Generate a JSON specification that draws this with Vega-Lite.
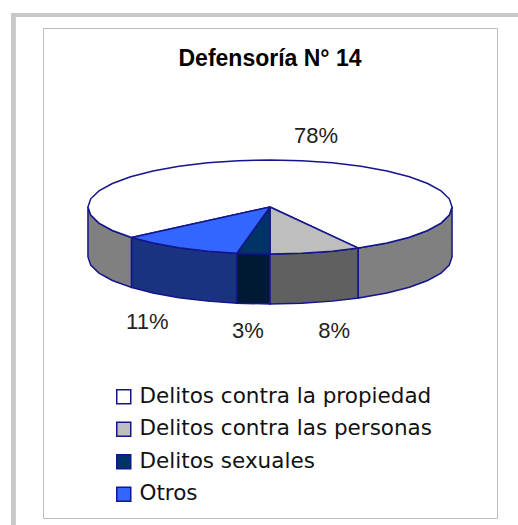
{"$schema":"https://vega.github.io/schema/vega-lite/v6.json","width":454,"height":490,"autosize":{"type":"none"},"padding":{"left":43,"top":28,"right":21,"bottom":7},"background":"white","view":{"stroke":"#bdbdbd","strokeWidth":1},
"title":{"text":"Defensoría N° 14","font":"Liberation Sans","fontSize":23,"fontWeight":"bold","color":"#000000","anchor":"middle","offset":-58},
"datasets":{
"frame":[{"x":-1.423,"x2":-1.396,"y":1.066,"y2":-1.747},{"x":-1.423,"x2":1.363,"y":1.066,"y2":1.044}],
"walls":[
{"category":"Delitos contra la propiedad","part":"left","order":1,"x":-1,"y":0},{"category":"Delitos contra la propiedad","part":"left","order":2,"x":-0.9848,"y":-0.0448},{"category":"Delitos contra la propiedad","part":"left","order":3,"x":-0.9397,"y":-0.0883},{"category":"Delitos contra la propiedad","part":"left","order":4,"x":-0.866,"y":-0.1291},{"category":"Delitos contra la propiedad","part":"left","order":5,"x":-0.7604,"y":-0.1677},{"category":"Delitos contra la propiedad","part":"left","order":6,"x":-0.7604,"y":-0.4424},{"category":"Delitos contra la propiedad","part":"left","order":7,"x":-0.866,"y":-0.4038},{"category":"Delitos contra la propiedad","part":"left","order":8,"x":-0.9397,"y":-0.363},{"category":"Delitos contra la propiedad","part":"left","order":9,"x":-0.9848,"y":-0.3195},{"category":"Delitos contra la propiedad","part":"left","order":10,"x":-1,"y":-0.2747},{"category":"Delitos contra la propiedad","part":"left","order":11,"x":-1,"y":0},
{"category":"Otros","part":"otros","order":1,"x":-0.7604,"y":-0.1677},{"category":"Otros","part":"otros","order":2,"x":-0.6428,"y":-0.1978},{"category":"Otros","part":"otros","order":3,"x":-0.5,"y":-0.2236},{"category":"Otros","part":"otros","order":4,"x":-0.342,"y":-0.2426},{"category":"Otros","part":"otros","order":5,"x":-0.1822,"y":-0.2539},{"category":"Otros","part":"otros","order":6,"x":-0.1822,"y":-0.5286},{"category":"Otros","part":"otros","order":7,"x":-0.342,"y":-0.5173},{"category":"Otros","part":"otros","order":8,"x":-0.5,"y":-0.4983},{"category":"Otros","part":"otros","order":9,"x":-0.6428,"y":-0.4725},{"category":"Otros","part":"otros","order":10,"x":-0.7604,"y":-0.4424},{"category":"Otros","part":"otros","order":11,"x":-0.7604,"y":-0.1677},
{"category":"Delitos sexuales","part":"sex","order":1,"x":-0.1822,"y":-0.2539},{"category":"Delitos sexuales","part":"sex","order":2,"x":0,"y":-0.2582},{"category":"Delitos sexuales","part":"sex","order":3,"x":0,"y":-0.5329},{"category":"Delitos sexuales","part":"sex","order":4,"x":-0.1822,"y":-0.5286},{"category":"Delitos sexuales","part":"sex","order":5,"x":-0.1822,"y":-0.2539},
{"category":"Delitos contra las personas","part":"pers","order":1,"x":0,"y":-0.2582},{"category":"Delitos contra las personas","part":"pers","order":2,"x":0.1736,"y":-0.2543},{"category":"Delitos contra las personas","part":"pers","order":3,"x":0.342,"y":-0.2426},{"category":"Delitos contra las personas","part":"pers","order":4,"x":0.4848,"y":-0.2258},{"category":"Delitos contra las personas","part":"pers","order":5,"x":0.4848,"y":-0.5005},{"category":"Delitos contra las personas","part":"pers","order":6,"x":0.342,"y":-0.5173},{"category":"Delitos contra las personas","part":"pers","order":7,"x":0.1736,"y":-0.529},{"category":"Delitos contra las personas","part":"pers","order":8,"x":0,"y":-0.5329},{"category":"Delitos contra las personas","part":"pers","order":9,"x":0,"y":-0.2582},
{"category":"Delitos contra la propiedad","part":"right","order":1,"x":0.4848,"y":-0.2258},{"category":"Delitos contra la propiedad","part":"right","order":2,"x":0.6428,"y":-0.1978},{"category":"Delitos contra la propiedad","part":"right","order":3,"x":0.766,"y":-0.166},{"category":"Delitos contra la propiedad","part":"right","order":4,"x":0.866,"y":-0.1291},{"category":"Delitos contra la propiedad","part":"right","order":5,"x":0.9397,"y":-0.0883},{"category":"Delitos contra la propiedad","part":"right","order":6,"x":0.9848,"y":-0.0448},{"category":"Delitos contra la propiedad","part":"right","order":7,"x":1,"y":0},{"category":"Delitos contra la propiedad","part":"right","order":8,"x":1,"y":-0.2747},{"category":"Delitos contra la propiedad","part":"right","order":9,"x":0.9848,"y":-0.3195},{"category":"Delitos contra la propiedad","part":"right","order":10,"x":0.9397,"y":-0.363},{"category":"Delitos contra la propiedad","part":"right","order":11,"x":0.866,"y":-0.4038},{"category":"Delitos contra la propiedad","part":"right","order":12,"x":0.766,"y":-0.4407},{"category":"Delitos contra la propiedad","part":"right","order":13,"x":0.6428,"y":-0.4725},{"category":"Delitos contra la propiedad","part":"right","order":14,"x":0.4848,"y":-0.5005},{"category":"Delitos contra la propiedad","part":"right","order":15,"x":0.4848,"y":-0.2258}
],
"top":[
{"category":"Delitos contra la propiedad","order":1,"x":0,"y":0},{"category":"Delitos contra la propiedad","order":2,"x":0.4848,"y":-0.2258},{"category":"Delitos contra la propiedad","order":3,"x":0.6428,"y":-0.1978},{"category":"Delitos contra la propiedad","order":4,"x":0.766,"y":-0.166},{"category":"Delitos contra la propiedad","order":5,"x":0.866,"y":-0.1291},{"category":"Delitos contra la propiedad","order":6,"x":0.9397,"y":-0.0883},{"category":"Delitos contra la propiedad","order":7,"x":0.9848,"y":-0.0448},{"category":"Delitos contra la propiedad","order":8,"x":1,"y":0},{"category":"Delitos contra la propiedad","order":9,"x":0.9848,"y":0.0448},{"category":"Delitos contra la propiedad","order":10,"x":0.9397,"y":0.0883},{"category":"Delitos contra la propiedad","order":11,"x":0.866,"y":0.1291},{"category":"Delitos contra la propiedad","order":12,"x":0.766,"y":0.166},{"category":"Delitos contra la propiedad","order":13,"x":0.6428,"y":0.1978},{"category":"Delitos contra la propiedad","order":14,"x":0.5,"y":0.2236},{"category":"Delitos contra la propiedad","order":15,"x":0.342,"y":0.2426},{"category":"Delitos contra la propiedad","order":16,"x":0.1736,"y":0.2543},{"category":"Delitos contra la propiedad","order":17,"x":0,"y":0.2582},{"category":"Delitos contra la propiedad","order":18,"x":-0.1736,"y":0.2543},{"category":"Delitos contra la propiedad","order":19,"x":-0.342,"y":0.2426},{"category":"Delitos contra la propiedad","order":20,"x":-0.5,"y":0.2236},{"category":"Delitos contra la propiedad","order":21,"x":-0.6428,"y":0.1978},{"category":"Delitos contra la propiedad","order":22,"x":-0.766,"y":0.166},{"category":"Delitos contra la propiedad","order":23,"x":-0.866,"y":0.1291},{"category":"Delitos contra la propiedad","order":24,"x":-0.9397,"y":0.0883},{"category":"Delitos contra la propiedad","order":25,"x":-0.9848,"y":0.0448},{"category":"Delitos contra la propiedad","order":26,"x":-1,"y":0},{"category":"Delitos contra la propiedad","order":27,"x":-0.9848,"y":-0.0448},{"category":"Delitos contra la propiedad","order":28,"x":-0.9397,"y":-0.0883},{"category":"Delitos contra la propiedad","order":29,"x":-0.866,"y":-0.1291},{"category":"Delitos contra la propiedad","order":30,"x":-0.7604,"y":-0.1677},{"category":"Delitos contra la propiedad","order":31,"x":0,"y":0},
{"category":"Delitos contra las personas","order":1,"x":0,"y":0},{"category":"Delitos contra las personas","order":2,"x":0,"y":-0.2582},{"category":"Delitos contra las personas","order":3,"x":0.1736,"y":-0.2543},{"category":"Delitos contra las personas","order":4,"x":0.342,"y":-0.2426},{"category":"Delitos contra las personas","order":5,"x":0.4848,"y":-0.2258},{"category":"Delitos contra las personas","order":6,"x":0,"y":0},
{"category":"Delitos sexuales","order":1,"x":0,"y":0},{"category":"Delitos sexuales","order":2,"x":-0.1822,"y":-0.2539},{"category":"Delitos sexuales","order":3,"x":0,"y":-0.2582},{"category":"Delitos sexuales","order":4,"x":0,"y":0},
{"category":"Otros","order":1,"x":0,"y":0},{"category":"Otros","order":2,"x":-0.7604,"y":-0.1677},{"category":"Otros","order":3,"x":-0.6428,"y":-0.1978},{"category":"Otros","order":4,"x":-0.5,"y":-0.2236},{"category":"Otros","order":5,"x":-0.342,"y":-0.2426},{"category":"Otros","order":6,"x":-0.1822,"y":-0.2539},{"category":"Otros","order":7,"x":0,"y":0}
],
"labels":[{"label":"78%","x":0.253,"y":0.39},{"label":"11%","x":-0.674,"y":-0.632},{"label":"3%","x":-0.121,"y":-0.681},{"label":"8%","x":0.352,"y":-0.681}]
},
"layer":[
{"data":{"name":"frame"},"mark":{"type":"rect","fill":"#c8c8c8"},"encoding":{"x":{"field":"x","type":"quantitative","scale":{"domain":[-1.247,1.247]},"axis":null},"x2":{"field":"x2"},"y":{"field":"y","type":"quantitative","scale":{"domain":[-1.709,0.9835]},"axis":null},"y2":{"field":"y2"}}},
{"data":{"name":"walls"},"mark":{"type":"line","stroke":"#14148c","strokeWidth":1.5,"filled":true},"encoding":{"x":{"field":"x","type":"quantitative","scale":{"domain":[-1.247,1.247]},"axis":null},"y":{"field":"y","type":"quantitative","scale":{"domain":[-1.709,0.9835]},"axis":null},"order":{"field":"order"},"detail":{"field":"part"},"fill":{"field":"category","type":"nominal","legend":null,"scale":{"domain":["Delitos contra la propiedad","Delitos contra las personas","Delitos sexuales","Otros"],"range":["#808080","#606060","#001a33","#1a3380"]}}}},
{"data":{"name":"top"},"mark":{"type":"line","stroke":"#14148c","strokeWidth":1.5,"filled":true},"encoding":{"x":{"field":"x","type":"quantitative","scale":{"domain":[-1.247,1.247]},"axis":null},"y":{"field":"y","type":"quantitative","scale":{"domain":[-1.709,0.9835]},"axis":null},"order":{"field":"order"},"fill":{"field":"category","type":"nominal","scale":{"domain":["Delitos contra la propiedad","Delitos contra las personas","Delitos sexuales","Otros"],"range":["#ffffff","#bebebe","#003366","#3366ff"]},"legend":{"title":null,"orient":"none","legendX":70,"legendY":358,"symbolType":"square","symbolSize":196,"symbolStrokeColor":"#14148c","symbolStrokeWidth":1.5,"labelFont":"DejaVu Sans","labelFontSize":21.5,"labelColor":"#111111","labelLimit":400,"labelOffset":5,"rowPadding":9.5}}}},
{"data":{"name":"labels"},"mark":{"type":"text","font":"Liberation Sans","fontSize":22,"color":"#222222","align":"center","baseline":"middle"},"encoding":{"x":{"field":"x","type":"quantitative","scale":{"domain":[-1.247,1.247]},"axis":null},"y":{"field":"y","type":"quantitative","scale":{"domain":[-1.709,0.9835]},"axis":null},"text":{"field":"label"}}}
],
"resolve":{"scale":{"fill":"independent"}}
}
